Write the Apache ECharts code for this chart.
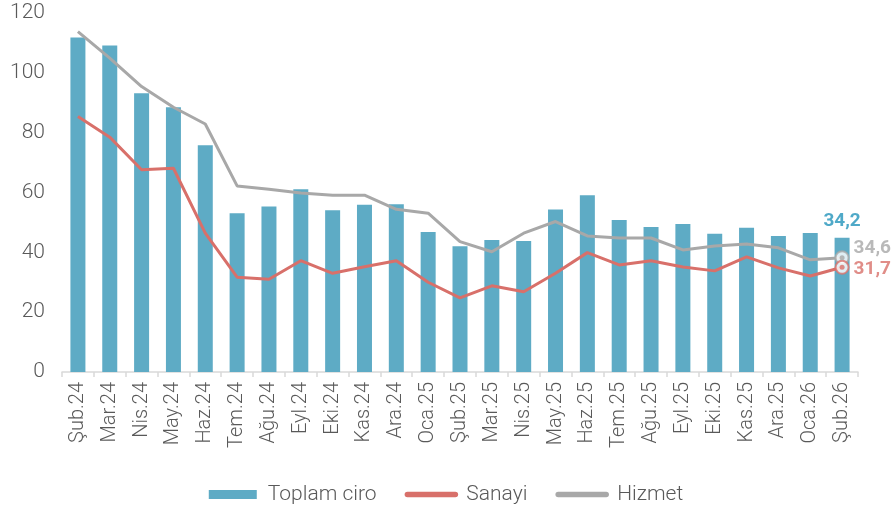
<!DOCTYPE html>
<html>
<head>
<meta charset="utf-8">
<script src="https://cdn.jsdelivr.net/npm/echarts@6/dist/echarts.min.js"></script>
<style>
  html, body { margin: 0; padding: 0; background: #fff; }
  #chart { width: 892px; height: 505px; }
</style>
</head>
<body>
<div id="chart"></div>
<script>
const categories = ['Şub.24', 'Mar.24', 'Nis.24', 'May.24', 'Haz.24', 'Tem.24', 'Ağu.24', 'Eyl.24', 'Eki.24', 'Kas.24', 'Ara.24', 'Oca.25', 'Şub.25', 'Mar.25', 'Nis.25', 'May.25', 'Haz.25', 'Tem.25', 'Ağu.25', 'Eyl.25', 'Eki.25', 'Kas.25', 'Ara.25', 'Oca.26', 'Şub.26']
const toplamCiro = [111.8, 109.1, 93.2, 88.5, 75.8, 53.1, 55.3, 61.1, 54.1, 55.9, 56.1, 46.8, 42.0, 44.1, 43.8, 54.3, 59.1, 50.8, 48.5, 49.5, 46.2, 48.2, 45.5, 46.5, 44.9]
const sanayi = [85.4, 78.5, 67.6, 68.1, 46.4, 31.7, 31.0, 37.2, 33.0, 35.2, 37.2, 30.0, 24.8, 28.8, 26.8, 33.0, 39.9, 35.8, 37.2, 35.1, 33.8, 38.5, 34.8, 32.1, 35.0]
const hizmet = [113.8, 104.9, 95.4, 88.5, 82.9, 62.2, 61.1, 59.8, 59.1, 59.1, 54.4, 53.1, 43.6, 40.2, 46.4, 50.3, 45.5, 44.8, 44.8, 40.8, 42.1, 42.8, 41.5, 37.5, 38.2]
// etiketler (son ay)
const endLabels = { ciro: '34,2', sanayi: '31,7', hizmet: '34,6' }

const BLUE = '#5eabc5'
const RED = '#d8706a'
const GRAY = '#a8a8a8'
const TEXT = '#595959'
const FONT = 'Roboto'

const last = categories.length - 1

// son nokta işaretçisi: beyaz halka + iç nokta
function endMarker(name, values, color, label, offset) {
  return [{
    name: name + '_ring',
    type: 'scatter',
    data: [[categories[last], values[last]]],
    symbol: 'circle',
    symbolSize: 13,
    z: 5,
    itemStyle: { color: '#fff', borderColor: color, borderWidth: 2 },
    label: {
      show: true,
      position: 'right',
      distance: 4,
      offset: offset,
      formatter: label,
      color: color,
      fontFamily: FONT,
      fontWeight: 'bold',
      fontSize: 19
    },
    silent: true
  }, {
    name: name + '_dot',
    type: 'scatter',
    data: [[categories[last], values[last]]],
    symbol: 'circle',
    symbolSize: 5,
    z: 6,
    itemStyle: { color: color },
    silent: true
  }]
}

const chart = echarts.init(document.getElementById('chart'))
chart.setOption({
  animation: false,
  backgroundColor: '#fff',
  grid: {
    left: 62,
    right: 34,
    top: 13,
    bottom: 133
  },
  legend: {
    top: 479,
    left: 'center',
    itemWidth: 48,
    itemHeight: 9,
    itemGap: 28,
    textStyle: { color: TEXT, fontSize: 21, fontFamily: FONT, fontWeight: 300, padding: [0, 0, 0, 6] },
    data: [
      { name: 'Toplam ciro', icon: 'rect' },
      { name: 'Sanayi', itemStyle: { opacity: 0 }, lineStyle: { width: 5.5, cap: 'round' } },
      { name: 'Hizmet', itemStyle: { opacity: 0 }, lineStyle: { width: 5.5, cap: 'round' } }
    ]
  },
  xAxis: {
    type: 'category',
    data: categories,
    axisLine: { lineStyle: { color: '#d9d9d9', width: 1.5 } },
    axisTick: { show: true, length: 5, lineStyle: { color: '#d9d9d9', width: 1.5 } },
    axisLabel: {
      rotate: 90,
      interval: 0,
      margin: 10,
      color: TEXT,
      fontSize: 20,
      fontFamily: FONT,
      fontWeight: 300
    }
  },
  yAxis: {
    type: 'value',
    min: 0,
    max: 120,
    interval: 20,
    axisLine: { show: false },
    axisTick: { show: false },
    splitLine: { show: false },
    axisLabel: {
      margin: 17,
      color: TEXT,
      fontSize: 21,
      fontFamily: FONT,
      fontWeight: 300
    }
  },
  series: [
    {
      name: 'Toplam ciro',
      type: 'bar',
      data: toplamCiro,
      barWidth: 15,
      itemStyle: { color: BLUE },
      label: {
        show: true,
        position: 'top',
        distance: 7,
        color: '#4fa9c8',
        fontFamily: FONT,
        fontWeight: 'bold',
        fontSize: 19,
        formatter: p => (p.dataIndex === last ? endLabels.ciro : '')
      }
    },
    {
      name: 'Sanayi',
      type: 'line',
      data: sanayi,
      symbol: 'none',
      z: 3,
      lineStyle: { color: RED, width: 3 },
      itemStyle: { color: RED }
    },
    {
      name: 'Hizmet',
      type: 'line',
      data: hizmet,
      symbol: 'none',
      z: 3,
      lineStyle: { color: GRAY, width: 3 },
      itemStyle: { color: GRAY }
    },
    ...endMarker('Hizmet', hizmet, GRAY, endLabels.hizmet, [0, -9]),
    ...endMarker('Sanayi', sanayi, RED, endLabels.sanayi, [0, 2])
  ]
})
</script>
</body>
</html>
